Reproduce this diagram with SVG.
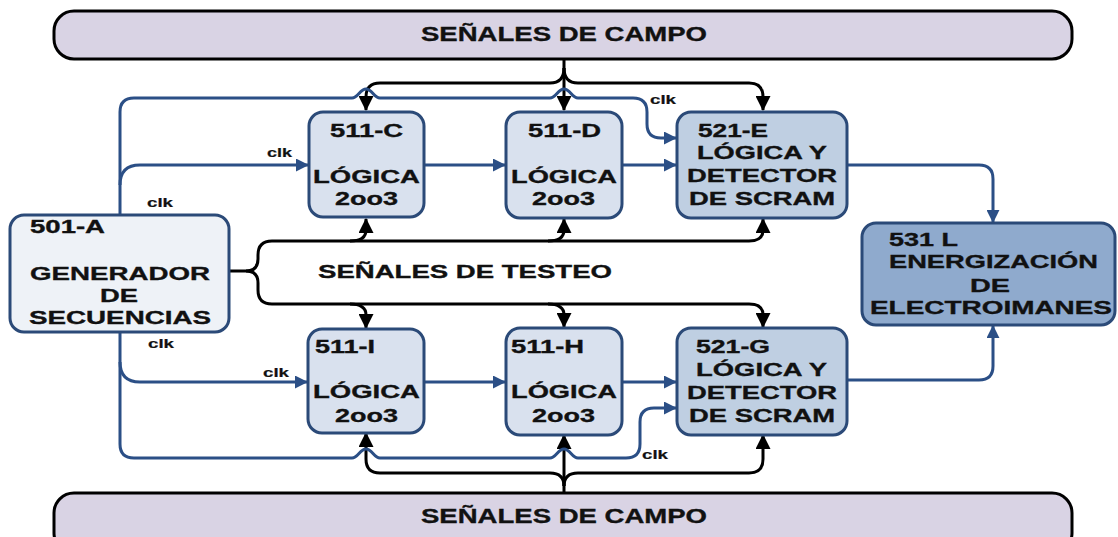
<svg xmlns="http://www.w3.org/2000/svg" width="1118" height="537" viewBox="0 0 1118 537">
<style>
.bar{fill:#d9d3e4;stroke:#000;stroke-width:3}
.n{stroke:#2b4a78;stroke-width:3}
.l1{fill:#d9e1ee}
.l2{fill:#bfcfe2}
.l3{fill:#8faacd}
.l0{fill:#eef2f7}
text{font-family:"Liberation Sans",Arial,sans-serif;font-weight:bold;fill:#111;stroke:#111;stroke-width:0.35}
.t{font-size:19px}
.T{font-size:21px}
.c{font-size:13px;stroke-width:0.2}
.bk{fill:none;stroke:#000;stroke-width:3}
.bl{fill:none;stroke:#2b4f86;stroke-width:3}
</style>
<defs>
<marker id="ak" viewBox="0 0 14 14" refX="13" refY="7" markerWidth="15" markerHeight="15" orient="auto" markerUnits="userSpaceOnUse"><path d="M0,0 L14,7 L0,14 z" fill="#000"/></marker>
<marker id="ab" viewBox="0 0 14 14" refX="13" refY="7" markerWidth="13" markerHeight="13" orient="auto" markerUnits="userSpaceOnUse"><path d="M0,0 L14,7 L0,14 z" fill="#2b4f86"/></marker>
</defs>

<g id="campo-top"><rect class="bar" x="54" y="11" width="1018" height="48" rx="20"/>
<text class="T" x="421" y="41" textLength="286" lengthAdjust="spacingAndGlyphs">SEÑALES DE CAMPO</text></g>
<g id="campo-bottom"><rect class="bar" x="54" y="493" width="1018" height="60" rx="20"/>
<text class="T" x="421" y="523" textLength="286" lengthAdjust="spacingAndGlyphs">SEÑALES DE CAMPO</text></g>

<g id="connectors">
<path class="bk" d="M564 59 V110" marker-end="url(#ak)"/>
<path class="bk" d="M564 68 Q564 83 550 83 H380 Q366 83 366 97 V110" marker-end="url(#ak)"/>
<path class="bk" d="M564 68 Q564 83 578 83 H749 Q763 83 763 97 V110" marker-end="url(#ak)"/>
<path class="bk" d="M564 493 V435" marker-end="url(#ak)"/>
<path class="bk" d="M564 486 Q564 473 550 473 H380 Q366 473 366 459 V433" marker-end="url(#ak)"/>
<path class="bk" d="M564 486 Q564 473 578 473 H749 Q763 473 763 459 V435" marker-end="url(#ak)"/>
<path class="bk" d="M229 271 H246 Q258 271 258 259 V255 Q258 241 272 241 H749 Q763 241 763 230 V219" marker-end="url(#ak)"/>
<path class="bk" d="M246 271 Q258 271 258 283 V290 Q258 304 272 304 H749 Q763 304 763 315 V327" marker-end="url(#ak)"/>
<path class="bk" d="M350 241 Q366 241 366 230 V219" marker-end="url(#ak)"/>
<path class="bk" d="M548 241 Q564 241 564 230 V219" marker-end="url(#ak)"/>
<path class="bk" d="M350 304 Q366 304 366 315 V328" marker-end="url(#ak)"/>
<path class="bk" d="M548 304 Q564 304 564 315 V327" marker-end="url(#ak)"/>
<path class="bl" d="M120 215 V112 Q120 98 134 98 H352 C358 98 360 89 366 89 C372 89 374 98 380 98 H550 C556 98 558 89 564 89 C570 89 572 98 578 98 H633 Q647 98 647 112 V124 Q647 138 661 138 H676" marker-end="url(#ab)"/>
<path class="bl" d="M120 185 Q120 165 140 165 H308" marker-end="url(#ab)"/>
<path class="bl" d="M424 165 H505" marker-end="url(#ab)"/>
<path class="bl" d="M622 165 H676" marker-end="url(#ab)"/>
<path class="bl" d="M847 165 H979 Q993 165 993 179 V222" marker-end="url(#ab)"/>
<path class="bl" d="M120 332 V444 Q120 458 134 458 H352 C358 458 360 449 366 449 C372 449 374 458 380 458 H550 C556 458 558 449 564 449 C570 449 572 458 578 458 H626 Q640 458 640 444 V422 Q640 408 654 408 H676" marker-end="url(#ab)"/>
<path class="bl" d="M120 362 Q120 382 140 382 H307" marker-end="url(#ab)"/>
<path class="bl" d="M424 382 H505" marker-end="url(#ab)"/>
<path class="bl" d="M622 382 H676" marker-end="url(#ab)"/>
<path class="bl" d="M847 380 H979 Q993 380 993 366 V326" marker-end="url(#ab)"/>
<text class="c" x="650" y="104" textLength="26" lengthAdjust="spacingAndGlyphs">clk</text>
<text class="c" x="267" y="157" textLength="25" lengthAdjust="spacingAndGlyphs">clk</text>
<text class="c" x="147" y="207" textLength="26" lengthAdjust="spacingAndGlyphs">clk</text>
<text class="c" x="148" y="348" textLength="26" lengthAdjust="spacingAndGlyphs">clk</text>
<text class="c" x="263" y="377" textLength="26" lengthAdjust="spacingAndGlyphs">clk</text>
<text class="c" x="642" y="459" textLength="26" lengthAdjust="spacingAndGlyphs">clk</text>
<text class="t" x="318" y="278" textLength="294" lengthAdjust="spacingAndGlyphs">SEÑALES DE TESTEO</text>
</g>

<g id="n501A"><rect class="n l0" x="10" y="215" width="219" height="117" rx="14"/>
<text class="t" x="30" y="233" textLength="75" lengthAdjust="spacingAndGlyphs">501-A</text>
<text class="t" x="30" y="280" textLength="180" lengthAdjust="spacingAndGlyphs">GENERADOR</text>
<text class="t" x="100" y="302" textLength="38" lengthAdjust="spacingAndGlyphs">DE</text>
<text class="t" x="29" y="324" textLength="182" lengthAdjust="spacingAndGlyphs">SECUENCIAS</text></g>

<g id="n511C"><rect class="n l1" x="309" y="112" width="115" height="105" rx="14"/>
<text class="t" x="330" y="137" textLength="73" lengthAdjust="spacingAndGlyphs">511-C</text>
<text class="t" x="313" y="183" textLength="107" lengthAdjust="spacingAndGlyphs">LÓGICA</text>
<text class="t" x="335" y="205" textLength="63" lengthAdjust="spacingAndGlyphs">2oo3</text></g>

<g id="n511D"><rect class="n l1" x="506" y="112" width="116" height="106" rx="14"/>
<text class="t" x="528" y="137" textLength="73" lengthAdjust="spacingAndGlyphs">511-D</text>
<text class="t" x="511" y="183" textLength="106" lengthAdjust="spacingAndGlyphs">LÓGICA</text>
<text class="t" x="532" y="205" textLength="63" lengthAdjust="spacingAndGlyphs">2oo3</text></g>

<g id="n521E"><rect class="n l2" x="677" y="112" width="170" height="106" rx="14"/>
<text class="t" x="698" y="137" textLength="70" lengthAdjust="spacingAndGlyphs">521-E</text>
<text class="t" x="697" y="159" textLength="130" lengthAdjust="spacingAndGlyphs">LÓGICA Y</text>
<text class="t" x="687" y="182" textLength="150" lengthAdjust="spacingAndGlyphs">DETECTOR</text>
<text class="t" x="689" y="205" textLength="146" lengthAdjust="spacingAndGlyphs">DE SCRAM</text></g>

<g id="n511I"><rect class="n l1" x="308" y="329" width="116" height="104" rx="14"/>
<text class="t" x="315" y="353" textLength="60" lengthAdjust="spacingAndGlyphs">511-I</text>
<text class="t" x="313" y="398" textLength="107" lengthAdjust="spacingAndGlyphs">LÓGICA</text>
<text class="t" x="335" y="422" textLength="63" lengthAdjust="spacingAndGlyphs">2oo3</text></g>

<g id="n511H"><rect class="n l1" x="506" y="328" width="116" height="107" rx="14"/>
<text class="t" x="511" y="353" textLength="73" lengthAdjust="spacingAndGlyphs">511-H</text>
<text class="t" x="511" y="398" textLength="106" lengthAdjust="spacingAndGlyphs">LÓGICA</text>
<text class="t" x="532" y="422" textLength="63" lengthAdjust="spacingAndGlyphs">2oo3</text></g>

<g id="n521G"><rect class="n l2" x="677" y="328" width="170" height="107" rx="14"/>
<text class="t" x="696" y="353" textLength="74" lengthAdjust="spacingAndGlyphs">521-G</text>
<text class="t" x="696" y="376" textLength="131" lengthAdjust="spacingAndGlyphs">LÓGICA Y</text>
<text class="t" x="687" y="399" textLength="150" lengthAdjust="spacingAndGlyphs">DETECTOR</text>
<text class="t" x="689" y="422" textLength="146" lengthAdjust="spacingAndGlyphs">DE SCRAM</text></g>

<g id="n531L"><rect class="n l3" x="862" y="223" width="253" height="102" rx="14"/>
<text class="t" x="889" y="246" textLength="69" lengthAdjust="spacingAndGlyphs">531 L</text>
<text class="t" x="889" y="268" textLength="209" lengthAdjust="spacingAndGlyphs">ENERGIZACIÓN</text>
<text class="t" x="970" y="292" textLength="40" lengthAdjust="spacingAndGlyphs">DE</text>
<text class="t" x="870" y="314" textLength="242" lengthAdjust="spacingAndGlyphs">ELECTROIMANES</text></g>
</svg>
